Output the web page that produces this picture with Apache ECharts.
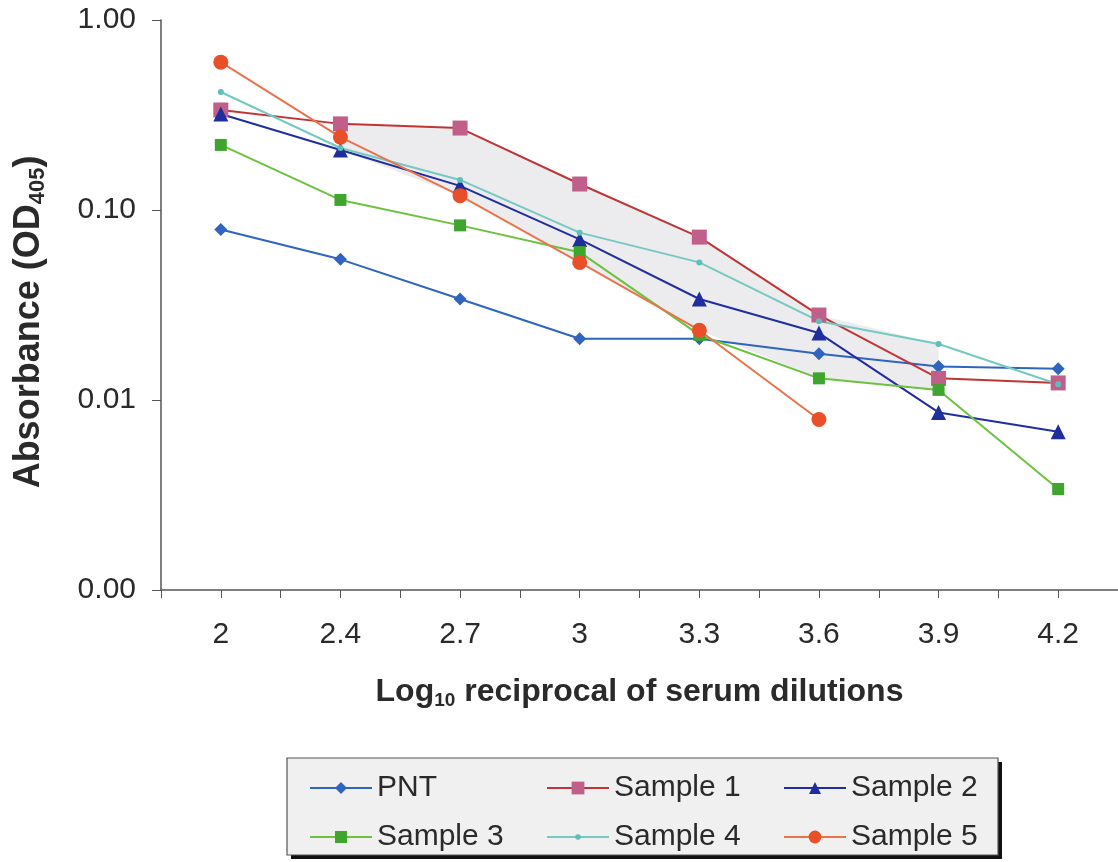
<!DOCTYPE html>
<html>
<head>
<meta charset="utf-8">
<script src="https://cdn.jsdelivr.net/npm/echarts@6/dist/echarts.min.js"></script>
<style>
html,body{margin:0;padding:0;background:#fff;}
#chart{width:1118px;height:862px;}
</style>
</head>
<body>
<div id="chart"></div>
<script>
const categories = ['2', '2.4', '2.7', '3', '3.3', '3.6', '3.9', '4.2'];
const pnt     = [0.079, 0.055, 0.034, 0.021, 0.021, 0.0175, 0.015, 0.0146];
const sample1 = [0.336, 0.284, 0.27, 0.137, 0.072, 0.028, 0.013, 0.0123];
const sample2 = [0.32, 0.207, 0.134, 0.07, 0.034, 0.0225, 0.0086, 0.0068];
const sample3 = [0.22, 0.113, 0.083, 0.06, 0.022, 0.013, 0.0113, 0.0034];
const sample4 = [0.418, 0.212, 0.144, 0.076, 0.053, 0.026, 0.0197, 0.0121];
const sample5 = [0.60, 0.242, 0.119, 0.053, 0.0233, 0.0079, null, null];
// shaded band (upper / lower bounds per category)
const shadeUpper = [null, 0.284, 0.27, 0.137, 0.072, 0.028, 0.0197, null];
const shadeLower = [null, 0.207, 0.119, 0.053, 0.0233, 0.013, 0.0113, null];

const chart = echarts.init(document.getElementById('chart'));
const FONT = '"Liberation Sans", Arial, Helvetica, sans-serif';
const TXT = '#2a2a2a';

function lineSeries(name, data, lineColor, markColor, symbol, size, width) {
  return {
    name: name, type: 'line', data: data, symbol: symbol, symbolSize: size,
    showSymbol: true, connectNulls: false,
    lineStyle: {color: lineColor, width: width || 2},
    itemStyle: {color: markColor, borderWidth: 0},
    emphasis: {disabled: true},
    z: 3
  };
}

const shadeSeries = {
  type: 'custom', name: 'shade', silent: true, z: 1,
  data: [[0]],
  renderItem: function (params, api) {
    const top = [], bot = [];
    for (let i = 0; i < categories.length; i++) {
      if (shadeUpper[i] != null) top.push(api.coord([i, shadeUpper[i]]));
      if (shadeLower[i] != null) bot.push(api.coord([i, shadeLower[i]]));
    }
    const pts = top.concat(bot.reverse());
    return {type: 'polygon', shape: {points: pts}, style: {fill: '#ececef', stroke: null}};
  }
};

function legendItem(name, left, top, h) {
  return {
    orient: 'vertical', itemWidth: 62, itemHeight: h, itemGap: 0,
    textStyle: {fontFamily: FONT, fontSize: 30, color: TXT, lineHeight: 30},
    left: left, top: top, selectedMode: false, data: [name]
  };
}

const nameRich = function (fs) {
  return {
    a: {fontFamily: FONT, fontSize: fs, fontWeight: 'bold', color: TXT, lineHeight: fs + 4},
    s: {fontFamily: FONT, fontSize: Math.round(fs * 0.6), fontWeight: 'bold', color: TXT,
        lineHeight: Math.round(fs * 0.45), verticalAlign: 'bottom'}
  };
};

const option = {
  backgroundColor: '#fff',
  animation: false,
  grid: {left: 161, top: 20, width: 964, height: 570, containLabel: false},
  xAxis: [{
    type: 'category', data: categories, boundaryGap: true,
    axisLine: {lineStyle: {color: '#555', width: 1.5}},
    axisTick: {show: true, alignWithLabel: true, length: 8, lineStyle: {color: '#555'}},
    axisLabel: {fontFamily: FONT, fontSize: 30, color: TXT, margin: 30},
    name: '{a|Log}{s|10}{a| reciprocal of serum dilutions}',
    nameLocation: 'middle', nameGap: 84,
    nameTextStyle: {rich: nameRich(32)},
    splitLine: {show: false}
  }, {
    type: 'category', data: categories, boundaryGap: true, position: 'bottom',
    axisLine: {show: false},
    axisTick: {show: true, alignWithLabel: false, length: 8, lineStyle: {color: '#555'}},
    axisLabel: {show: false},
    splitLine: {show: false}
  }],
  yAxis: {
    type: 'log', logBase: 10, min: 0.001, max: 1,
    axisLine: {show: true, lineStyle: {color: '#555', width: 1.5}},
    axisTick: {show: true, length: 9, lineStyle: {color: '#555'}},
    axisLabel: {fontFamily: FONT, fontSize: 30, color: TXT, margin: 25,
      formatter: function (v) { return Number(v).toFixed(2); }},
    splitLine: {show: false},
    minorTick: {show: false},
    name: '{a|Absorbance (OD}{s|405}{a|)}',
    nameLocation: 'middle', nameGap: 112, nameRotate: 90,
    nameTextStyle: {rich: nameRich(36), padding: [0, 34, 0, 0]}
  },
  legend: [
    legendItem('PNT', 304, 768, 15),
    legendItem('Sample 3', 304, 817, 15),
    legendItem('Sample 1', 541, 768, 16),
    legendItem('Sample 4', 541, 817, 7),
    legendItem('Sample 2', 778, 768, 15),
    legendItem('Sample 5', 778, 817, 16)
  ],
  graphic: [{
    type: 'rect', z: 0, silent: true,
    shape: {x: 291, y: 762, width: 711, height: 97},
    style: {fill: '#111', stroke: null}
  }, {
    type: 'rect', z: 0, silent: true,
    shape: {x: 287, y: 758, width: 711, height: 97},
    style: {fill: '#f0f0f0', stroke: '#555', lineWidth: 1.2}
  }],
  series: [
    shadeSeries,
    lineSeries('PNT', pnt, '#2f64bf', '#2f64bf', 'diamond', 13),
    lineSeries('Sample 1', sample1, '#bf3535', '#c0608a', 'rect', 15),
    lineSeries('Sample 2', sample2, '#1f2e9e', '#1f2e9e', 'triangle', 15),
    lineSeries('Sample 3', sample3, '#6cc23e', '#3fa52e', 'rect', 12),
    lineSeries('Sample 4', sample4, '#74c9c2', '#5fbfb8', 'circle', 6),
    lineSeries('Sample 5', sample5, '#e8744c', '#e8502a', 'circle', 15)
  ]
};
chart.setOption(option);
</script>
</body>
</html>
